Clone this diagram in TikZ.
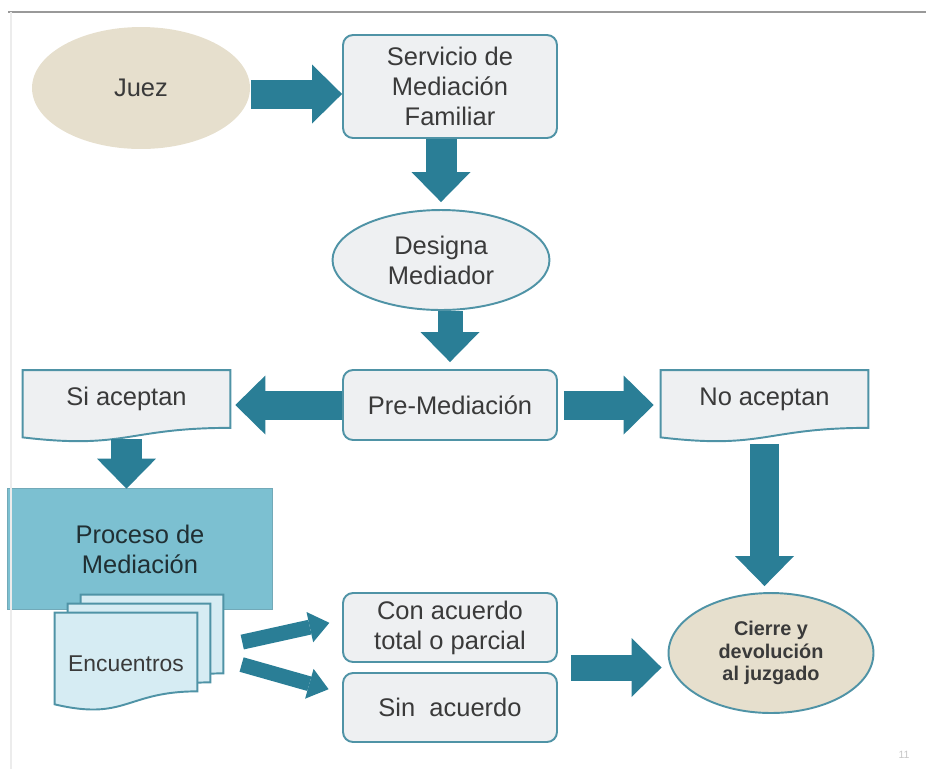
\documentclass[tikz,border=0pt]{standalone}
\usepackage{fontspec}
\setmainfont{Liberation Sans}
\usetikzlibrary{shapes.geometric, arrows.meta, calc}

\definecolor{cFlecha}{HTML}{2A7E96}
\definecolor{cBorde}{HTML}{4F93A6}
\definecolor{cCaja}{HTML}{EEF0F2}
\definecolor{cBeige}{HTML}{E6DFCD}
\definecolor{cProceso}{HTML}{7CC0D1}
\definecolor{cHoja}{HTML}{D6ECF3}
\definecolor{cTexto}{HTML}{3A3A3A}

\pgfdeclarelayer{fondo}
\pgfsetlayers{fondo,main}

\tikzset{
    caja/.style={rectangle, rounded corners=0.2cm, draw=cBorde, line width=1.1pt, fill=cCaja,
        align=center, text=cTexto, font=\fontsize{14.5}{17}\selectfont},
    ovalo/.style={ellipse, inner sep=0pt, align=center, text=cTexto, line width=1.1pt,
        font=\fontsize{14.5}{17}\selectfont},
    hoja/.style={rectangle, inner sep=0pt, align=center, text=cTexto,
        font=\fontsize{14.5}{17}\selectfont},
    flecha/.style={draw=cFlecha, line width=0.58cm,
        -{Triangle[length=0.6cm, width=1.18cm, line width=0pt 0 0]}},
    flechita/.style={draw=cFlecha, line width=0.3cm,
        -{Triangle[length=0.4cm, width=0.62cm, line width=0pt 0 0]}}
}

% hoja de documento (borde inferior ondulado) bajo el nodo #1
\newcommand{\hojadoc}[2]{%
    \path[draw=cBorde, line width=1.1pt, fill=#2]
        let \p1=(#1.north west), \p2=(#1.south east) in
        (\p1) -- (\x2,\y1) -- (\p2)
        .. controls ({0.5*\x1+0.5*\x2},\y2) and ({0.5*\x1+0.5*\x2},{\y1+1.38*(\y2-\y1)}) ..
        (\x1,{\y1+1.165*(\y2-\y1)}) -- cycle;}

\begin{document}
\begin{tikzpicture}[x=0.02cm, y=-0.02cm]
        \useasboundingbox (0,0) rectangle (926,769);

        % marco de la diapositiva
        \draw[gray!80, line width=0.8pt] (8,12) -- (926,12);
        \draw[gray!15, line width=0.6pt] (11,12) -- (11,769);

        % nodos de arriba
        \node[ovalo, fill=cBeige, minimum width=4.36cm, minimum height=2.44cm] (juez) at (141,88) {Juez};
        \node[caja, minimum width=4.28cm, minimum height=2.06cm] (serv) at (450,86.5) {Servicio de\\Mediación\\Familiar};
        \node[ovalo, fill=cCaja, draw=cBorde, minimum width=4.34cm, minimum height=2cm] (desig) at (441,260) {Designa\\Mediador};
        \node[caja, minimum width=4.28cm, minimum height=1.4cm] (pre) at (450,405) {Pre-Mediación};

        % si / no aceptan
        \node[hoja, minimum width=4.14cm, minimum height=1.14cm] (si) at (126.5,399) {Si aceptan};
        \node[hoja, minimum width=4.14cm, minimum height=1.14cm] (no) at (764.5,399) {No aceptan};

        % proceso de mediacion y encuentros
        \node[hoja, text=cTexto!70!cFlecha!60!black, minimum width=5.28cm, minimum height=2.4cm] (proc) at (140,549) {Proceso de\\Mediación};
        \node[hoja, minimum width=2.84cm, minimum height=1.56cm] (enc3) at (152,634) {};
        \node[hoja, minimum width=2.84cm, minimum height=1.56cm] (enc2) at (139,643) {};
        \node[hoja, font=\fontsize{13}{15}\selectfont, text height=22pt, text depth=0pt,
            minimum width=2.84cm, minimum height=1.56cm] (enc) at (126,652) {Encuentros};

        % resultados
        \node[caja, minimum width=4.28cm, minimum height=1.38cm] (con) at (450,627.5) {Con acuerdo\\total o parcial};
        \node[caja, minimum width=4.28cm, minimum height=1.38cm] (sin) at (450,707.5) {Sin\ \ acuerdo};
        \node[ovalo, fill=cBeige, draw=cBorde, font=\bfseries\fontsize{11.3}{13}\selectfont,
            minimum width=4.1cm, minimum height=2.4cm] (cierre) at (771,653) {Cierre y\\devolución\\al juzgado};

        % fondos de las hojas
        \begin{pgfonlayer}{fondo}
            \draw[draw=cBorde!80, line width=0.6pt, fill=cProceso] (proc.north west) rectangle (proc.south east);
            \hojadoc{enc3}{cHoja}
            \hojadoc{enc2}{cHoja}
            \hojadoc{enc}{cHoja}
            \hojadoc{si}{cCaja}
            \hojadoc{no}{cCaja}
        \end{pgfonlayer}

        % flechas
        \draw[flecha] ([yshift=-0.12cm]juez.east) -- ([yshift=-0.12cm]juez.east -| serv.west);
        \draw[flecha, line width=0.62cm, shorten >=0.14cm] (desig.north |- serv.south) -- (desig.north);
        \draw[flecha, line width=0.5cm, shorten >=0.14cm] (pre.north |- desig.south) -- (pre.north);
        \draw[flecha, shorten >=0.1cm] (pre.west) -- (pre.west -| si.east);
        \draw[flecha, shorten <=0.12cm, shorten >=0.14cm] (pre.east) -- (pre.east -| no.west);
        \draw[flecha, line width=0.62cm, shorten <=0.22cm] (si.south) -- (si.south |- proc.north);
        \draw[flecha, shorten <=0.32cm, shorten >=0.12cm] (no.south) -- (no.south |- cierre.north);
        \draw[flechita, shorten <=0.92cm, shorten >=0.26cm] (enc.east) -- ([yshift=0.15cm]con.west);
        \draw[flechita, shorten <=0.92cm, shorten >=0.28cm] (enc.east) -- ([yshift=0.29cm]sin.west);
        \coordinate (union) at ($(con.south east)!0.5!(sin.north east)$);
        \draw[flecha, line width=0.52cm, shorten <=0.26cm, shorten >=0.12cm] (union) -- (union -| cierre.west);

        % numero de pagina
        \node[font=\fontsize{6}{7}\selectfont, text=gray!45] (pag) at (904,755) {11};
    \end{tikzpicture}
\end{document}
